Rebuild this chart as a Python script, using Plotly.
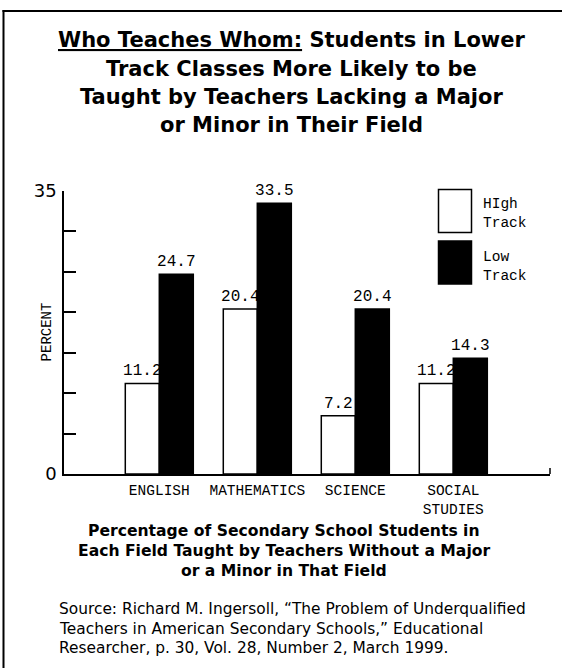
import plotly.graph_objects as go

# ---- data ----
categories = ["ENGLISH", "MATHEMATICS", "SCIENCE", "SOCIAL<br>STUDIES"]
high_track = [11.2, 20.4, 7.2, 11.2]
low_track = [24.7, 33.5, 20.4, 14.3]
y_tick_vals = [0, 5, 10, 15, 20, 25, 30, 35]
y_tick_text = ["0", "", "", "", "", "", "", "35"]
series_names = ["HIgh<br>Track", "Low<br>Track"]

title_lines = [
    "<span style='text-decoration:underline'>Who Teaches Whom:</span> Students in Lower",
    "Track Classes More Likely to be",
    "Taught by Teachers Lacking a Major",
    "or Minor in Their Field",
]
subtitle_lines = [
    "Percentage of Secondary School Students in",
    "Each Field Taught by Teachers Without a Major",
    "or a Minor in That Field",
]
source_lines = [
    "Source: Richard M. Ingersoll, \u201cThe Problem of Underqualified",
    "Teachers in American Secondary Schools,\u201d Educational",
    "Researcher, p. 30, Vol. 28, Number 2, March 1999.",
]

# ---- layout geometry ----
W, H = 563, 669
L, R, T, B = 64, 13, 191, 195
PW, PH = W - L - R, H - T - B


def px(xp):
    return (xp - L) / PW


def py(yp):
    return (H - B - yp) / PH


MONO = "Liberation Mono"
SANS = "DejaVu Sans"

fig = go.Figure()
fig.add_trace(go.Bar(
    x=categories, y=high_track, name="High Track",
    marker=dict(color="white", line=dict(color="black", width=1.5)),
    text=[f"{v:.1f}" for v in high_track], textposition="outside",
    textfont=dict(family=MONO, size=16, color="black"),
    constraintext="none", cliponaxis=False,
))
fig.add_trace(go.Bar(
    x=categories, y=low_track, name="Low Track",
    marker=dict(color="black", line=dict(color="black", width=1.5)),
    text=[f"{v:.1f}" for v in low_track], textposition="outside",
    textfont=dict(family=MONO, size=16, color="black"),
    constraintext="none", cliponaxis=False,
))

annotations = []
title_y = [40, 68.6, 97, 125.5]
for line, yy in zip(title_lines, title_y):
    annotations.append(dict(
        text=f"<b>{line}</b>", x=px(291), y=py(yy), xref="paper", yref="paper",
        xanchor="center", yanchor="middle", showarrow=False,
        font=dict(family=SANS, size=21, color="black"),
    ))
sub_y = [531, 551, 571]
for line, yy in zip(subtitle_lines, sub_y):
    annotations.append(dict(
        text=f"<b>{line}</b>", x=px(284), y=py(yy), xref="paper", yref="paper",
        xanchor="center", yanchor="middle", showarrow=False,
        font=dict(family=SANS, size=15.6, color="black"),
    ))
src_y = [609, 628.5, 648]
for line, yy in zip(source_lines, src_y):
    annotations.append(dict(
        text=line, x=px(57), y=py(yy), xref="paper", yref="paper",
        xanchor="left", yanchor="middle", showarrow=False,
        font=dict(family=SANS, size=15.4, color="black"),
    ))
# y-axis title
annotations.append(dict(
    text="PERCENT", x=px(46.7), y=py(331.7), xref="paper", yref="paper",
    xanchor="center", yanchor="middle", showarrow=False, textangle=-90,
    font=dict(family=MONO, size=14, color="black"),
))
# legend texts
annotations.append(dict(
    text=series_names[0], x=px(481), y=py(213), xref="paper", yref="paper",
    xanchor="left", yanchor="middle", showarrow=False, align="left",
    font=dict(family=MONO, size=14.5, color="black"),
))
annotations.append(dict(
    text=series_names[1], x=px(481), y=py(266.5), xref="paper", yref="paper",
    xanchor="left", yanchor="middle", showarrow=False, align="left",
    font=dict(family=MONO, size=14.5, color="black"),
))

shapes = [
    # outer frame: top edge
    dict(type="line", xref="paper", yref="paper",
         x0=px(2.5), x1=px(W - 1), y0=py(11), y1=py(11),
         line=dict(color="black", width=2)),
    # outer frame: left edge
    dict(type="line", xref="paper", yref="paper",
         x0=px(3.5), x1=px(3.5), y0=py(10), y1=py(H - 1),
         line=dict(color="black", width=2)),
    # legend swatches
    dict(type="rect", xref="paper", yref="paper",
         x0=px(438.5), x1=px(471.5), y0=py(189.5), y1=py(232.5),
         line=dict(color="black", width=1.5), fillcolor="white"),
    dict(type="rect", xref="paper", yref="paper",
         x0=px(438.5), x1=px(471.5), y0=py(241), y1=py(284),
         line=dict(color="black", width=1.5), fillcolor="black"),
    # small end tick at right end of x axis
    dict(type="line", xref="paper", yref="paper",
         x0=1, x1=1, y0=0, y1=6 / PH,
         line=dict(color="black", width=1.5)),
]

fig.update_layout(
    width=W, height=H,
    margin=dict(l=L, r=R, t=T, b=B, pad=0),
    paper_bgcolor="white", plot_bgcolor="white",
    barmode="group", bargap=0.306, bargroupgap=0,
    showlegend=False,
    annotations=annotations, shapes=shapes,
    hovermode=False,
    xaxis=dict(
        type="category", range=[-0.9724, 3.9867],
        showline=True, linecolor="black", linewidth=1.5,
        showgrid=False, zeroline=False, ticks="",
        tickfont=dict(family=MONO, size=14.5, color="black"),
        ticklabelstandoff=2,
    ),
    yaxis=dict(
        range=[0, 35], tickvals=y_tick_vals, ticktext=y_tick_text,
        showline=True, linecolor="black", linewidth=1.5,
        showgrid=False, zeroline=False,
        ticks="inside", ticklen=12, tickwidth=1.5, tickcolor="black",
        tickfont=dict(family=SANS, size=18, color="black"),
        ticklabelstandoff=2,
    ),
)

fig.write_html("out.html", config={"displayModeBar": False})
